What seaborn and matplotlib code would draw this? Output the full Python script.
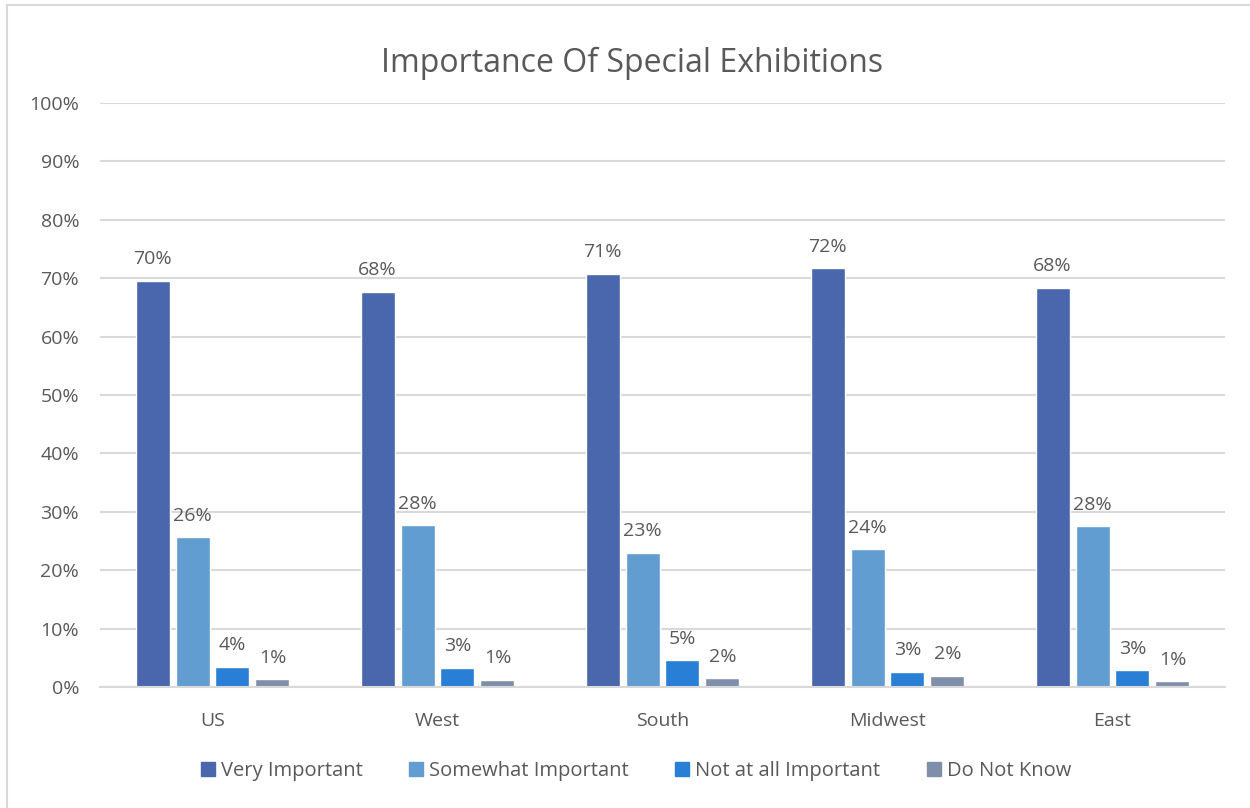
import matplotlib
matplotlib.use("Agg")
import matplotlib.pyplot as plt
from matplotlib.patches import Rectangle
import seaborn as sns
import pandas as pd

regions = ["US", "West", "South", "Midwest", "East"]
responses = ["Very Important", "Somewhat Important", "Not at all Important", "Do Not Know"]
very_important = [69.6, 67.7, 70.8, 71.7, 68.4]
somewhat_important = [25.6, 27.7, 23.0, 23.6, 27.5]
not_at_all_important = [3.5, 3.3, 4.6, 2.6, 2.9]
do_not_know = [1.3, 1.2, 1.5, 1.9, 1.0]
y_ticks = [0, 10, 20, 30, 40, 50, 60, 70, 80, 90, 100]
colors = ["#4A66AC", "#629DD1", "#297FD5", "#7F8FA9"]

series = [very_important, somewhat_important, not_at_all_important, do_not_know]
df = pd.DataFrame(
    [(r, resp, vals[i]) for resp, vals in zip(responses, series) for i, r in enumerate(regions)],
    columns=["Region", "Response", "Share"],
)

sns.set_theme(style="white")
plt.rcParams["font.family"] = ["Open Sans", "DejaVu Sans"]
text_color = "#595959"
grid_color = "#D9D9D9"

fig = plt.figure(figsize=(12.5, 8.08), dpi=100)
fig.patches.append(Rectangle((7 / 1250, -0.1), 1.2, 1.1 - 5 / 808,
                             transform=fig.transFigure, fill=False,
                             edgecolor=grid_color, linewidth=1.5))
ax = fig.add_axes([100 / 1250, 1 - 687 / 808, 1125 / 1250, 584 / 808])

sns.barplot(data=df, x="Region", y="Share", hue="Response", order=regions,
            hue_order=responses, palette=colors, width=0.71, gap=0.15,
            saturation=1, ax=ax, legend=True)

ax.set_ylim(0, 100)
ax.set_xlim(-0.5, len(regions) - 0.5)
ax.set_yticks(y_ticks)
ax.set_yticklabels([f"{t}%" for t in y_ticks])
ax.yaxis.grid(True, color=grid_color, linewidth=1.5)
ax.set_axisbelow(True)
for s in ["top", "right", "left"]:
    ax.spines[s].set_visible(False)
ax.spines["bottom"].set_color(grid_color)
ax.spines["bottom"].set_linewidth(1.5)
ax.tick_params(axis="both", length=0, labelsize=14, colors=text_color)
ax.tick_params(axis="y", pad=15)
ax.tick_params(axis="x", pad=18)
ax.set_xlabel("")
ax.set_ylabel("")

for container in ax.containers:
    ax.bar_label(container, labels=[f"{v:.0f}%" for v in container.datavalues],
                 padding=9, fontsize=14, color=text_color)

ax.legend_.remove()
handles = [Rectangle((0, 0), 1, 1, color=c) for c in colors]
fig.legend(handles, responses, loc="center", bbox_to_anchor=(636 / 1250, 1 - 771 / 808),
           ncol=4, frameon=False, fontsize=14.5, labelcolor=text_color,
           handlelength=0.7, handleheight=0.7, handletextpad=0.3, columnspacing=2.3)

fig.text(632 / 1250, 1 - 63 / 808, "Importance Of Special Exhibitions",
         ha="center", va="center", fontsize=23, color=text_color)

fig.savefig("out.png", dpi=100, facecolor="white")
